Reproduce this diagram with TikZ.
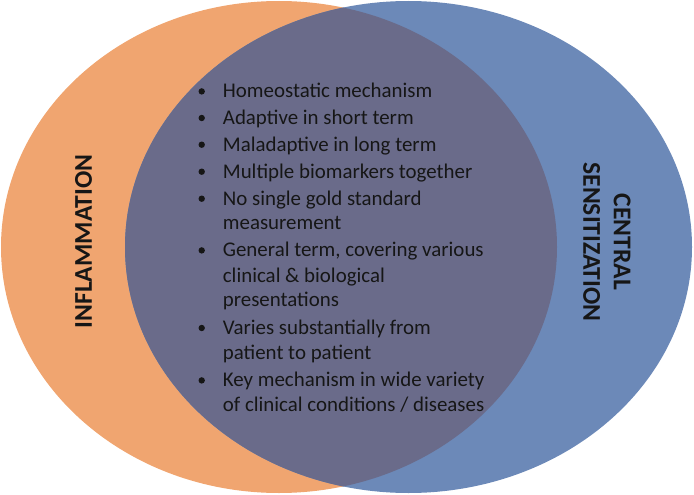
\documentclass[tikz,border=0pt]{standalone}
\usepackage{fontspec}
\setmainfont{Carlito}
\definecolor{orangeset}{RGB}{240,165,112}
\definecolor{blueset}{RGB}{108,137,184}
\definecolor{overlapset}{RGB}{106,107,138}
\definecolor{inktext}{RGB}{22,22,22}
\begin{document}
\begin{tikzpicture}[x=1pt,y=-1pt,
  itemtext/.style={anchor=base west,inner sep=0pt,text=inktext,font=\fontsize{20.9}{25}\selectfont},
  bulletdot/.style={circle,fill=inktext,inner sep=0pt,minimum size=6.4pt},
  setlabel/.style={inner sep=0pt,text=inktext,font=\fontsize{25.6}{30.5}\selectfont\bfseries}]
\useasboundingbox (0,0) rectangle (694,495);
% sets
\fill[orangeset] (279,247) ellipse [x radius=278pt, y radius=246pt];
\fill[blueset] (408.5,247) ellipse [x radius=283.5pt, y radius=246pt];
\begin{scope}
  \clip (279,247) ellipse [x radius=278pt, y radius=246pt];
  \fill[overlapset] (408.5,247) ellipse [x radius=283.5pt, y radius=246pt];
\end{scope}
% labels
\node[setlabel,rotate=90] (infl) at (83.5,241.5) {INFLAMMATION};
\node[setlabel,rotate=-90,align=center] (cs) at (607,242) {CENTRAL\\SENSITIZATION};
% list
\foreach \yy/\txt/\hasb [count=\i] in {
  97.7/{Homeostatic mechanism}/1,
  124.3/{Adaptive in short term}/1,
  151/{Maladaptive in long term}/1,
  178/{Multiple biomarkers together}/1,
  205/{No single gold standard}/1,
  229.3/{measurement}/0,
  256.7/{General term, covering various}/1,
  282.7/{clinical \& biological}/0,
  306.7/{presentations}/0,
  334.3/{Varies substantially from}/1,
  359/{patient to patient}/0,
  386.7/{Key mechanism in wide variety}/1,
  411.7/{of clinical conditions / diseases}/0}{
  \node[itemtext] (line\i) at (222.7,\yy) {\txt};
  \ifnum\hasb=1
    \node[bulletdot] (dot\i) at (201.7,\yy-6.3) {};
  \fi
}
\end{tikzpicture}
\end{document}
